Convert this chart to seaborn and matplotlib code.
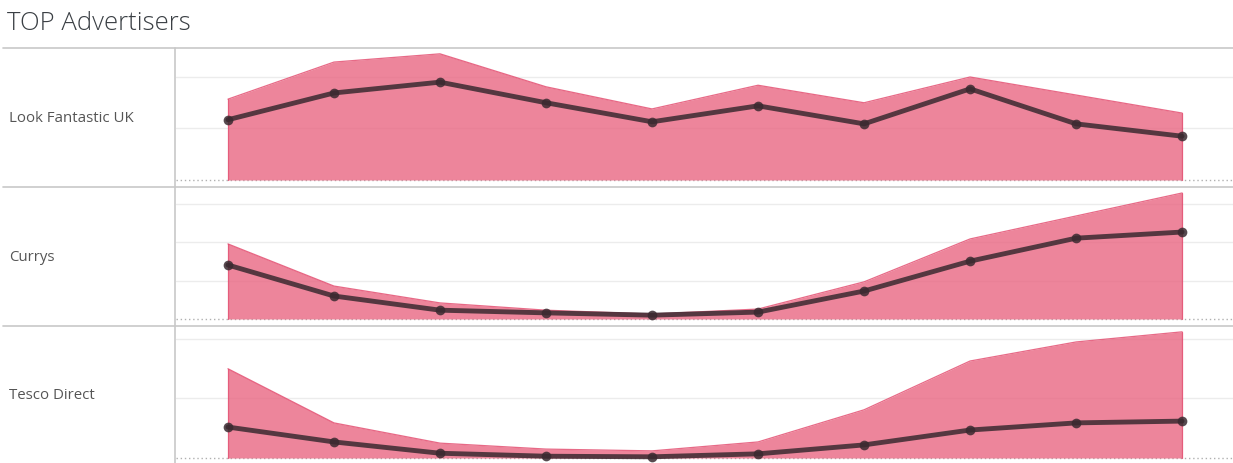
import pandas as pd
import matplotlib.pyplot as plt
from matplotlib.lines import Line2D
import seaborn as sns

sns.set_style("white")
plt.rcParams['font.family'] = ['Open Sans', 'DejaVu Sans']

periods = ['Jan', 'Feb', 'Mar', 'Apr', 'May', 'Jun', 'Jul', 'Aug', 'Sep', 'Oct']
advertisers = ['Look Fantastic UK', 'Currys', 'Tesco Direct']

# area = impressions, line = clicks (relative units)
look_area = [1.57, 2.29, 2.45, 1.81, 1.38, 1.84, 1.50, 2.00, 1.65, 1.30]
look_line = [1.17, 1.69, 1.90, 1.50, 1.13, 1.44, 1.09, 1.77, 1.09, 0.85]
currys_area = [1.96, 0.86, 0.42, 0.23, 0.13, 0.26, 0.97, 2.09, 2.69, 3.29]
currys_line = [1.41, 0.60, 0.23, 0.16, 0.10, 0.18, 0.73, 1.51, 2.11, 2.27]
tesco_area = [1.50, 0.59, 0.25, 0.15, 0.12, 0.27, 0.81, 1.63, 1.95, 2.12]
tesco_line = [0.52, 0.27, 0.08, 0.03, 0.02, 0.07, 0.22, 0.47, 0.59, 0.62]

rows = [
    (look_area, look_line, [1, 2], (-0.136, 2.563)),
    (currys_area, currys_line, [1, 2, 3], (-0.183, 3.446)),
    (tesco_area, tesco_line, [1, 2], (-0.084, 2.218)),
]

W, H = 1233, 464
fig = plt.figure(figsize=(W / 100, H / 100), dpi=100)

fig.text(7 / W, 1 - 24 / H, 'TOP Advertisers', fontsize=18.5, color='#3a3f44',
         fontweight='light', va='center', ha='left')

bounds = [(49, 188), (188, 327), (327, 464)]
sep_color = '#c8c8c8'
for y in [49, 188, 327]:
    fig.add_artist(Line2D([3 / W, 1], [1 - y / H, 1 - y / H], color=sep_color, lw=1.2))
fig.add_artist(Line2D([175 / W, 175 / W], [1 - 49 / H, 0], color=sep_color, lw=1.2))

for (area, line, ticks, ylim), (top, bot), name in zip(rows, bounds, advertisers):
    df = pd.DataFrame({'x': range(len(periods)), 'period': periods,
                       'area': area, 'line': line})
    ax = fig.add_axes([176 / W, 1 - bot / H, (W - 176) / W, (bot - top) / H])
    ax.set_facecolor('none')
    ax.fill_between(df['x'], 0, df['area'], color='#e9637f', alpha=0.78,
                    linewidth=0, zorder=2)
    ax.plot(df['x'], df['area'], color='#e2466a', lw=0.9, alpha=0.8, zorder=2)
    ax.plot([0, 0], [0, area[0]], color='#e2466a', lw=0.9, alpha=0.8, zorder=2)
    ax.plot([9, 9], [0, area[-1]], color='#e2466a', lw=0.9, alpha=0.8, zorder=2)
    sns.lineplot(data=df, x='x', y='line', ax=ax, color='#3a2a30', lw=3.5,
                 alpha=0.85, marker='o', markersize=7, markeredgewidth=0,
                 zorder=3)
    ax.axhline(0, color='#b0b0b0', lw=1, ls=(0, (1, 2)), zorder=1)
    ax.set_xlim(-0.49, 9.48)
    ax.set_ylim(*ylim)
    ax.set_yticks(ticks)
    ax.yaxis.grid(True, color='#ececec', lw=1)
    ax.set_axisbelow(True)
    ax.set_xticks([])
    ax.tick_params(left=False, labelleft=False)
    ax.set_xlabel('')
    ax.set_ylabel('')
    for s in ax.spines.values():
        s.set_visible(False)
    fig.text(9 / W, 1 - ((top + bot) / 2 + 0.5) / H, name, fontsize=10.8,
             color='#555555', va='center', ha='left')

plt.savefig('out.png', dpi=100)
plt.close()
